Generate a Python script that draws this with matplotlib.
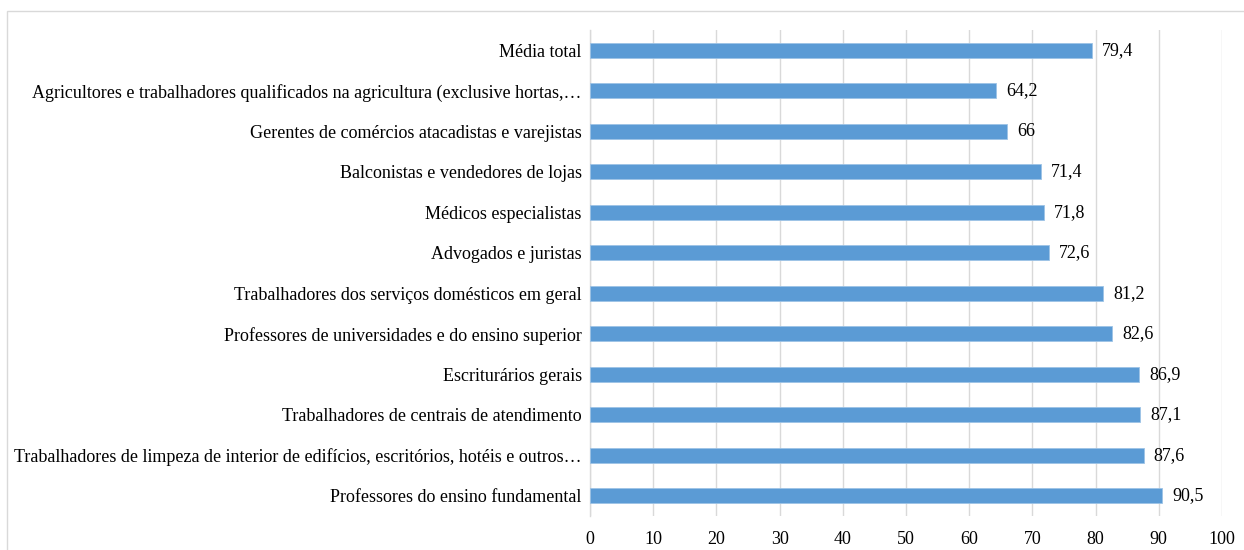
import matplotlib.pyplot as plt
from matplotlib.patches import Rectangle

categorias = [
    "Média total",
    "Agricultores e trabalhadores qualificados na agricultura (exclusive hortas,…",
    "Gerentes de comércios atacadistas e varejistas",
    "Balconistas e vendedores de lojas",
    "Médicos especialistas",
    "Advogados e juristas",
    "Trabalhadores dos serviços domésticos em geral",
    "Professores de universidades e do ensino superior",
    "Escriturários gerais",
    "Trabalhadores de centrais de atendimento",
    "Trabalhadores de limpeza de interior de edifícios, escritórios, hotéis e outros…",
    "Professores do ensino fundamental",
]
valores = [79.4, 64.2, 66, 71.4, 71.8, 72.6, 81.2, 82.6, 86.9, 87.1, 87.6, 90.5]
ticks_x = list(range(0, 101, 10))

plt.rcParams['font.family'] = ['Liberation Serif', 'DejaVu Serif']
plt.rcParams['font.size'] = 13

fig = plt.figure(figsize=(12.44, 5.5), dpi=100)
ax = fig.add_axes([0.4743, 0.0618, 0.508, 0.8836])

pos = list(range(len(categorias)))
ax.barh(pos, valores, height=0.37, color='#5B9BD5', edgecolor='#9DC3E6', linewidth=0.6, zorder=3)

for p, v in zip(pos, valores):
    txt = ('%g' % v).replace('.', ',')
    ax.text(v + 1.6, p, txt, va='center', ha='left', fontsize=13, color='#000000')

ax.set_ylim(len(categorias) - 0.5, -0.5)
ax.set_xlim(0, 100)
ax.set_xticks(ticks_x)
ax.set_yticks(pos)
ax.set_yticklabels(categorias)
ax.tick_params(axis='both', length=0, colors='#000000')
ax.tick_params(axis='y', pad=6)
ax.tick_params(axis='x', pad=11)
ax.grid(axis='x', color='#d9d9d9', linewidth=1.0, zorder=0)
for s in ['top', 'right', 'bottom']:
    ax.spines[s].set_visible(False)
ax.spines['left'].set_color('#d9d9d9')
ax.spines['left'].set_linewidth(1.0)

fig.patches.append(Rectangle((7 / 1244, -0.01), 1.02, 1 - 11 / 550 + 0.01,
                             transform=fig.transFigure, fill=False,
                             edgecolor='#d9d9d9', linewidth=1.0))

fig.savefig('out.png', dpi=100)
